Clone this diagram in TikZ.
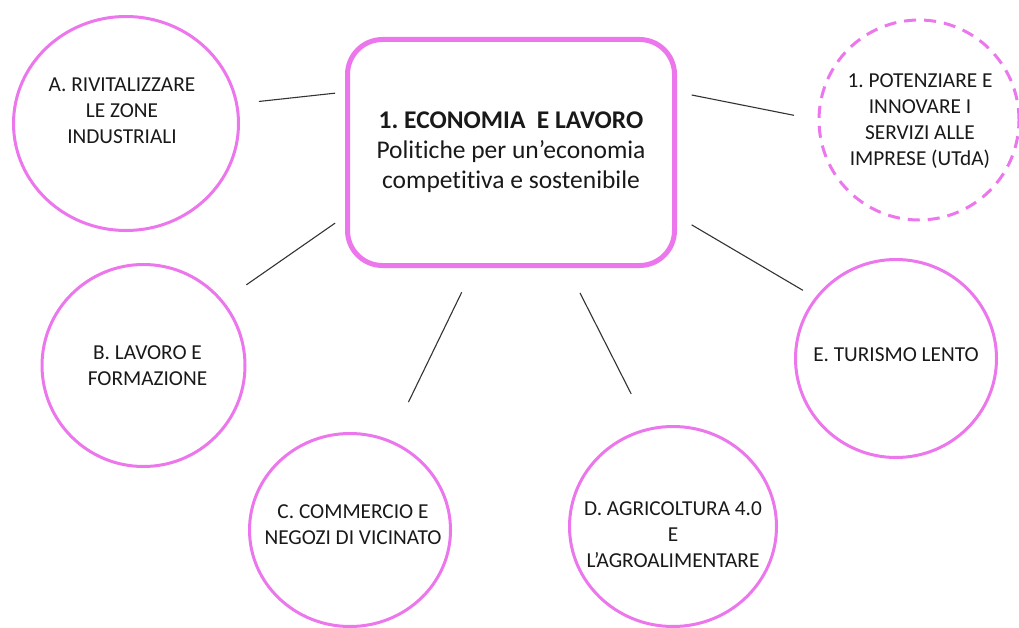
\documentclass[tikz,border=0pt]{standalone}
\usepackage{fontspec}
\setmainfont{Carlito}[Ligatures=NoCommon]
\usetikzlibrary{shapes.geometric}
\definecolor{rosa}{RGB}{236,118,236}
\definecolor{testo}{RGB}{25,25,25}
\frenchspacing
\begin{document}
\begin{tikzpicture}[x=1pt,y=-1pt,
    bolla/.style={ellipse,draw=rosa,line width=3pt,inner sep=0pt},
    scritta/.style={text=testo,align=center,font=\fontsize{21.3}{26}\selectfont},
    link/.style={draw=black!80,line width=1.1pt}]
  \useasboundingbox (0,0) rectangle (1019,628);
  \node[draw=rosa,line width=5pt,rounded corners=35pt,minimum width=327pt,
    minimum height=226pt,text=testo,align=center,
    font=\fontsize{25.5}{30}\selectfont] (main) at (511,152.5)
    {\textbf{1. ECONOMIA\ \ E LAVORO}\\Politiche per un’economia\\competitiva e sostenibile};
  \node[bolla,minimum width=225pt,minimum height=214pt,
    label={[scritta,xshift=-4pt,yshift=13pt]center:A. RIVITALIZZARE\\LE ZONE\\INDUSTRIALI}] (a) at (126,123.5) {};
  \node[bolla,minimum width=203pt,minimum height=202pt,
    label={[scritta,xshift=4pt]center:B. LAVORO E\\FORMAZIONE}] (b) at (143.5,365.5) {};
  \node[bolla,minimum width=201pt,minimum height=193pt,
    label={[scritta,xshift=3pt,yshift=5pt]center:C. COMMERCIO E\\NEGOZI DI VICINATO}] (c) at (350,530) {};
  \node[bolla,minimum width=207pt,minimum height=200pt,
    label={[scritta,yshift=-8pt]center:D. AGRICOLTURA 4.0\\E\\L’AGROALIMENTARE}] (d) at (673,526.5) {};
  \node[bolla,minimum width=201pt,minimum height=198pt,
    label={[scritta,yshift=4pt]center:E. TURISMO LENTO}] (e) at (896,358.5) {};
  \node[bolla,dash pattern=on 12pt off 8pt,minimum width=200pt,minimum height=200pt,
    label={[scritta,xshift=1pt,yshift=-1pt]center:1. POTENZIARE E\\INNOVARE I\\SERVIZI ALLE\\IMPRESE (UTdA)}] (utda) at (919,120) {};
  \begin{scope}[link]
    \draw[shorten <=21pt,shorten >=10pt] (a.10) to (main.160);
    \draw[shorten <=28pt,shorten >=12pt] (b.39) to (main.201);
    \draw[shorten <=42pt,shorten >=27pt] (c.66) to (main.252.6);
    \draw[shorten <=38pt,shorten >=28pt] (d.104.7) to (main.296);
    \draw[shorten <=15pt,shorten >=24pt] (main.20.4) to (utda.180);
    \draw[shorten <=17pt,shorten >=14pt] (main.339.6) to (e.143.7);
  \end{scope}
\end{tikzpicture}
\end{document}
